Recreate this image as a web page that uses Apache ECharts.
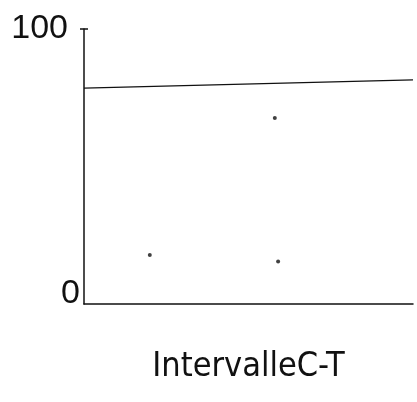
<!DOCTYPE html>
<html>
<head>
<meta charset="utf-8">
<script src="https://cdn.jsdelivr.net/npm/echarts@6/dist/echarts.min.js"></script>
<style>html,body{margin:0;padding:0;background:#fff}#c{width:417px;height:402px}</style>
</head>
<body>
<div id="c"></div>
<script>
const yTicks = [0, 100];
const xTitle = 'IntervalleC-T';
const lineX = [0, 100];
const lineY = [78.5, 81.5];
const dotX = [20, 58, 59];
const dotY = [17.8, 67.6, 15.5];

const chart = echarts.init(document.getElementById('c'), null, {renderer: 'canvas'});
chart.setOption({
  backgroundColor: '#fff',
  animation: false,
  grid: {left: 84, right: 4, top: 29, bottom: 98},
  xAxis: {
    type: 'value', min: 0, max: 100,
    name: xTitle, nameLocation: 'middle', nameGap: 46,
    nameTextStyle: {fontFamily: 'Liberation Sans Narrow, DejaVu Sans Condensed, Liberation Sans', fontSize: 34, color: '#111'},
    axisLine: {show: true, lineStyle: {color: '#111', width: 1.5}},
    axisTick: {show: false}, axisLabel: {show: false}, splitLine: {show: false}
  },
  yAxis: {
    type: 'value', min: yTicks[0], max: yTicks[1], interval: 100,
    axisLine: {show: true, lineStyle: {color: '#111', width: 1.5}, symbol: ['none', 'rect'], symbolSize: [8, 1.5]},
    axisTick: {show: false}, splitLine: {show: false},
    axisLabel: {
      margin: 4,
      fontFamily: 'Liberation Sans Narrow, DejaVu Sans Condensed, Liberation Sans',
      fontSize: 34, color: '#111',
      formatter: v => v === 100 ? '{a|100}' : '{b|0}',
      rich: {
        a: {fontSize: 34, padding: [0, 12, 0, 0], fontFamily: 'Liberation Sans', color: '#111'},
        b: {fontSize: 34, padding: [0, 0, 20, 0], fontFamily: 'Liberation Sans Narrow, Liberation Sans', color: '#111'}
      }
    }
  },
  series: [
    {type: 'line', data: lineX.map((x, i) => [x, lineY[i]]), symbol: 'none', lineStyle: {color: '#111', width: 1.5}},
    {type: 'scatter', data: dotX.map((x, i) => [x, dotY[i]]), symbolSize: 4, itemStyle: {color: '#111'}}
  ]
});
</script>
</body>
</html>
